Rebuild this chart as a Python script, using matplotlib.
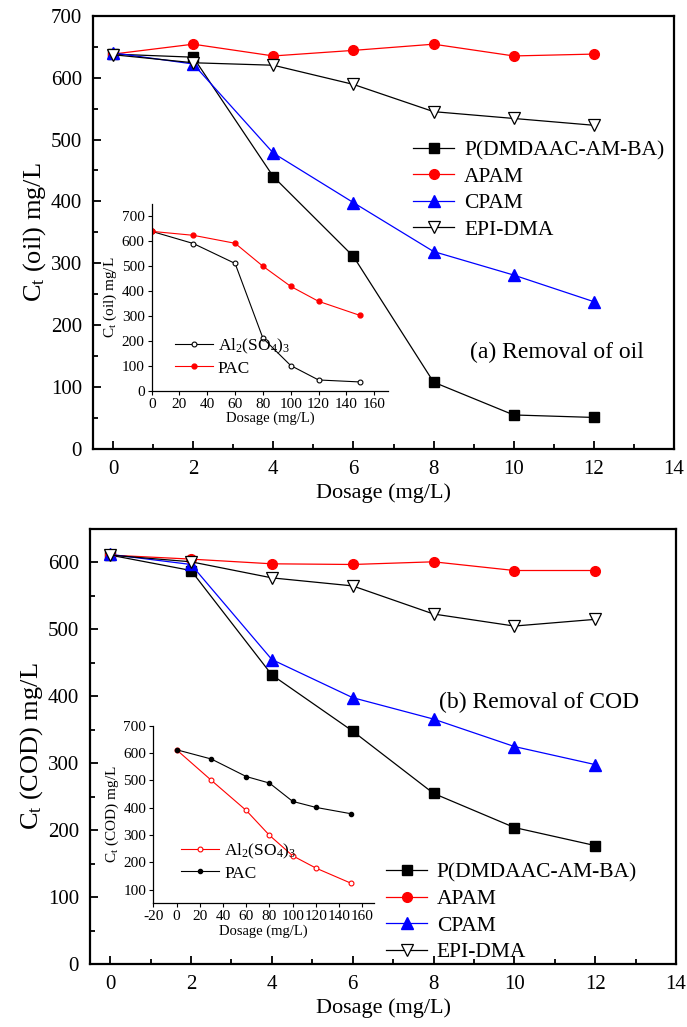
import matplotlib
matplotlib.use("Agg")
import matplotlib.pyplot as plt
from matplotlib.ticker import MultipleLocator

plt.rcParams['font.family'] = ['Liberation Serif', 'DejaVu Serif']
plt.rcParams['mathtext.fontset'] = 'custom'
plt.rcParams['mathtext.rm'] = 'Liberation Serif'
plt.rcParams['mathtext.it'] = 'Liberation Serif:italic'
plt.rcParams['axes.unicode_minus'] = False

# main panels: dosage of flocculant (mg/L)
dosage = [0, 2, 4, 6, 8, 10, 12]
series_names = ["P(DMDAAC-AM-BA)", "APAM", "CPAM", "EPI-DMA"]

# (a) oil
oil_pdmdaac = [638, 633, 440, 311, 108, 55, 51]
oil_apam = [638, 654, 635, 644, 654, 635, 638]
oil_cpam = [640, 622, 478, 398, 319, 281, 238]
oil_epi = [637, 624, 620, 589, 545, 534, 523]

# (b) COD
cod_pdmdaac = [611, 588, 432, 348, 255, 204, 177]
cod_apam = [611, 605, 598, 597, 601, 588, 588]
cod_cpam = [612, 597, 455, 398, 366, 325, 298]
cod_epi = [611, 601, 577, 565, 523, 505, 515]

# insets: inorganic coagulants
inset_dosage = [0, 30, 60, 80, 100, 120, 150]
oil_alum = [640, 591, 511, 211, 101, 43, 35]
oil_pac = [640, 624, 592, 500, 419, 359, 302]
cod_alum = [612, 500, 390, 299, 224, 179, 124]
cod_pac = [612, 578, 514, 490, 423, 401, 378]

styles = [
    dict(color='black', marker='s', mfc='black', mec='black', ms=7),
    dict(color='red', marker='o', mfc='red', mec='red', ms=7),
    dict(color='blue', marker='^', mfc='blue', mec='blue', ms=8.5),
    dict(color='black', marker='v', mfc='white', mec='black', ms=9, mew=0.9),
]


def style_main(ax, ymax):
    ax.set_xlim(-0.5, 14)
    ax.set_ylim(0, ymax)
    ax.xaxis.set_major_locator(MultipleLocator(2))
    ax.xaxis.set_minor_locator(MultipleLocator(1))
    ax.yaxis.set_major_locator(MultipleLocator(100))
    ax.yaxis.set_minor_locator(MultipleLocator(50))
    ax.tick_params(which='both', direction='in', top=False, right=False,
                   labelsize=15, width=1.3)
    ax.tick_params(which='major', length=6, pad=8)
    ax.tick_params(which='minor', length=3.5)
    for sp in ax.spines.values():
        sp.set_linewidth(1.6)
    ax.set_xlabel("Dosage (mg/L)", fontsize=16, labelpad=3)


def style_inset(ax, xlim, ylim, xticks, yticks):
    ax.set_xlim(*xlim)
    ax.set_ylim(*ylim)
    ax.set_xticks(xticks)
    ax.set_yticks(yticks)
    ax.spines['top'].set_visible(False)
    ax.spines['right'].set_visible(False)
    for sp in ['left', 'bottom']:
        ax.spines[sp].set_linewidth(0.9)
    ax.tick_params(direction='out', length=3, width=0.8, labelsize=11, pad=2)
    ax.patch.set_alpha(0)
    ax.set_xlabel("Dosage (mg/L)", fontsize=10.5, labelpad=1)


fig = plt.figure(figsize=(6.87, 10.27), dpi=100)

# ---- (a) removal of oil ----
ax1 = fig.add_axes([0.1354, 0.5628, 0.8457, 0.4219])
for vals, name, st in zip([oil_pdmdaac, oil_apam, oil_cpam, oil_epi], series_names, styles):
    ax1.plot(dosage, vals, lw=0.9, label=name, **st)
style_main(ax1, 700)
ax1.set_ylabel(r"C$_\mathrm{t}$ (oil) mg/L", fontsize=19, labelpad=2)
ax1.legend(loc='upper left', bbox_to_anchor=(0.533, 0.738), frameon=False,
           fontsize=15.5, borderpad=0, handlelength=1.9, handletextpad=0.45,
           labelspacing=0.3)
ax1.text(0.649, 0.222, "(a) Removal of oil", transform=ax1.transAxes,
         fontsize=17, va='center', ha='left')

in1 = fig.add_axes([0.2208, 0.6196, 0.344, 0.1818])
in1.plot(inset_dosage, oil_alum, color='black', lw=0.8, marker='o', ms=3.5,
         mfc='white', mec='black', mew=0.8, label=r"Al$_2$(SO$_4$)$_3$")
in1.plot(inset_dosage, oil_pac, color='red', lw=0.8, marker='o', ms=3.5,
         mfc='red', mec='red', label="PAC")
style_inset(in1, (0, 170), (0, 750), range(0, 161, 20), range(0, 701, 100))
in1.set_ylabel(r"C$_\mathrm{t}$ (oil) mg/L", fontsize=11, labelpad=2)
in1.legend(loc='upper left', bbox_to_anchor=(0.06, 0.335), frameon=False,
           fontsize=12.5, borderpad=0, handlelength=2.2, handletextpad=0.3,
           labelspacing=0.25)

# ---- (b) removal of COD ----
ax2 = fig.add_axes([0.131, 0.0613, 0.853, 0.4236])
for vals, name, st in zip([cod_pdmdaac, cod_apam, cod_cpam, cod_epi], series_names, styles):
    ax2.plot(dosage, vals, lw=0.9, label=name, **st)
style_main(ax2, 650)
ax2.set_ylabel(r"C$_\mathrm{t}$ (COD) mg/L", fontsize=19, labelpad=2)
ax2.legend(loc='upper left', bbox_to_anchor=(0.487, 0.258), frameon=False,
           fontsize=15.5, borderpad=0, handlelength=1.9, handletextpad=0.45,
           labelspacing=0.3)
ax2.text(0.596, 0.602, "(b) Removal of COD", transform=ax2.transAxes,
         fontsize=17, va='center', ha='left')

in2 = fig.add_axes([0.2231, 0.1204, 0.3213, 0.173])
in2.plot(inset_dosage, cod_alum, color='red', lw=0.8, marker='o', ms=3.5,
         mfc='white', mec='red', mew=0.8, label=r"Al$_2$(SO$_4$)$_3$")
in2.plot(inset_dosage, cod_pac, color='black', lw=0.8, marker='o', ms=3,
         mfc='black', mec='black', label="PAC")
style_inset(in2, (-20, 170), (50, 700), range(-20, 161, 20), range(100, 701, 100))
in2.set_ylabel(r"C$_\mathrm{t}$ (COD) mg/L", fontsize=11, labelpad=2)
in2.legend(loc='upper left', bbox_to_anchor=(0.085, 0.395), frameon=False,
           fontsize=12.5, borderpad=0, handlelength=2.2, handletextpad=0.3,
           labelspacing=0.25)

fig.savefig("out.png", dpi=100)
plt.close(fig)
